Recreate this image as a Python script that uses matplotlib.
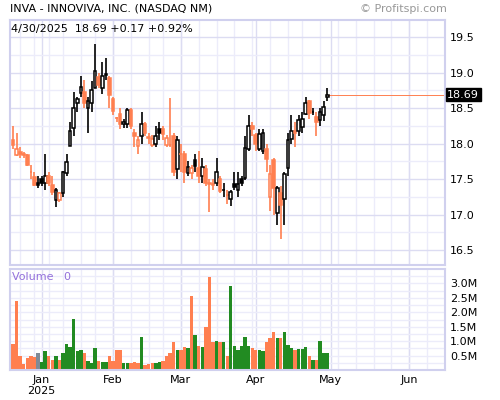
import matplotlib
matplotlib.use("Agg")
import matplotlib.pyplot as plt
import pandas as pd
import numpy as np

dates = ["2024-12-19","2024-12-20","2024-12-23","2024-12-24","2024-12-26","2024-12-27","2024-12-30","2024-12-31",
 "2025-01-02","2025-01-03","2025-01-06","2025-01-07","2025-01-08","2025-01-10","2025-01-13","2025-01-14","2025-01-15",
 "2025-01-16","2025-01-17","2025-01-21","2025-01-22","2025-01-23","2025-01-24","2025-01-27","2025-01-28","2025-01-29",
 "2025-01-30","2025-01-31",
 "2025-02-03","2025-02-04","2025-02-05","2025-02-06","2025-02-07","2025-02-10","2025-02-11","2025-02-12","2025-02-13",
 "2025-02-14","2025-02-18","2025-02-19","2025-02-20","2025-02-21","2025-02-24","2025-02-25","2025-02-26","2025-02-27","2025-02-28",
 "2025-03-03","2025-03-04","2025-03-05","2025-03-06","2025-03-07","2025-03-10","2025-03-11","2025-03-12","2025-03-13",
 "2025-03-14","2025-03-17","2025-03-18","2025-03-19","2025-03-20","2025-03-21","2025-03-24","2025-03-25","2025-03-26",
 "2025-03-27","2025-03-28","2025-03-31",
 "2025-04-01","2025-04-02","2025-04-03","2025-04-04","2025-04-07","2025-04-08","2025-04-09","2025-04-10","2025-04-11",
 "2025-04-14","2025-04-15","2025-04-16","2025-04-17","2025-04-21","2025-04-22","2025-04-23","2025-04-24","2025-04-25",
 "2025-04-28","2025-04-29","2025-04-30"]

opens = [18.05,17.84,17.88,17.86,17.84,17.60,17.53,17.45,
 17.50,17.45,17.55,17.42,17.20,17.20,17.30,17.58,17.96,18.22,18.57,18.71,18.72,18.50,18.57,18.78,18.94,18.78,18.98,18.92,
 18.63,18.36,18.42,18.27,18.27,18.47,18.15,17.97,18.10,18.28,18.08,17.98,18.00,18.20,18.20,17.98,17.98,18.10,17.64,
 17.85,17.85,17.58,17.58,17.77,17.66,17.55,17.64,17.44,17.43,17.44,17.50,17.34,17.27,17.22,17.43,17.34,17.50,17.51,17.92,18.25,
 18.12,17.92,17.90,17.92,17.25,17.77,17.02,17.30,17.22,17.65,18.06,18.18,18.18,18.23,18.42,18.60,18.45,18.37,18.33,18.40,18.65]
closes = [17.98,17.92,17.85,17.84,17.70,17.60,17.42,17.42,
 17.44,17.55,17.45,17.32,17.35,17.30,17.60,17.74,18.17,18.50,18.63,18.80,18.57,18.60,18.75,19.02,18.82,18.95,18.96,18.68,
 18.46,18.36,18.28,18.30,18.47,18.25,18.10,18.05,18.28,18.15,18.08,18.07,18.10,18.15,18.13,18.08,17.98,17.60,18.05,
 17.85,17.60,17.67,17.66,17.68,17.55,17.67,17.44,17.43,17.42,17.60,17.33,17.34,17.27,17.32,17.39,17.43,17.45,17.94,18.25,18.20,
 18.00,18.13,18.15,17.78,17.57,17.37,17.38,17.13,17.57,18.05,18.18,18.15,18.33,18.34,18.57,18.43,18.44,18.30,18.44,18.52,18.69]
highs = [18.25,18.15,17.95,17.88,17.86,17.70,17.60,17.55,
 17.55,17.85,17.60,17.55,17.38,17.32,17.62,17.85,18.30,18.72,18.65,18.95,18.90,18.65,18.88,19.40,19.00,19.15,19.20,18.95,
 18.65,18.38,18.50,18.35,18.50,18.50,18.20,18.10,18.45,18.30,18.15,18.12,18.25,18.30,18.25,18.12,18.64,18.15,18.10,
 18.00,17.90,17.75,17.70,17.85,17.90,17.80,17.70,17.50,17.50,17.80,17.55,17.45,17.35,17.35,17.60,17.60,17.55,18.10,18.40,18.30,
 18.15,18.20,18.20,18.00,17.70,17.80,17.40,17.40,17.60,18.15,18.40,18.30,18.40,18.45,18.65,18.62,18.50,18.45,18.50,18.60,18.78]
lows = [17.92,17.82,17.80,17.80,17.68,17.50,17.40,17.38,
 17.40,17.35,17.40,17.28,17.10,17.18,17.25,17.55,17.96,18.10,18.45,18.65,18.50,18.15,18.45,18.78,18.78,18.70,18.90,18.50,
 18.40,18.30,18.20,18.22,18.22,18.20,17.95,17.85,18.00,18.10,18.00,17.95,17.95,18.05,18.05,17.95,17.95,17.55,17.50,
 17.60,17.45,17.55,17.50,17.60,17.45,17.45,17.40,17.03,17.35,17.40,17.30,17.25,17.15,17.12,17.35,17.25,17.40,17.48,17.90,18.10,
 17.90,17.90,17.85,17.60,17.05,17.00,16.85,16.65,16.85,17.55,18.00,17.95,18.10,18.15,18.40,18.35,18.40,18.10,18.25,18.32,18.60]
volumes = [0.90,2.38,0.50,0.20,0.40,0.50,0.44,0.60,0.26,0.66,0.50,0.34,0.50,0.34,0.60,0.90,0.78,1.76,0.66,0.70,
 0.60,0.32,0.24,0.76,0.32,0.26,0.26,0.50,0.32,0.70,0.70,0.24,0.24,0.24,0.26,0.24,1.16,0.18,0.20,0.24,
 0.24,0.26,0.32,0.50,0.60,0.96,0.70,0.70,0.80,0.76,2.56,1.22,0.82,0.80,1.50,3.24,0.96,1.02,0.96,0.96,
 0.50,2.90,0.82,0.70,0.82,1.16,0.82,0.76,0.70,0.70,0.66,0.96,1.10,1.30,1.10,1.10,1.30,0.86,0.76,0.70,
 0.74,0.74,0.80,0.50,0.34,0.34,1.02,0.60,0.60]
price_ticks = [16.5, 17.0, 17.5, 18.0, 18.5, 19.0, 19.5]
vol_ticks = [0.5, 1.0, 1.5, 2.0, 2.5, 3.0]
month_ticks = ["2025-01-01","2025-02-01","2025-03-01","2025-04-01","2025-05-01","2025-06-01"]
month_labels = ["Jan\n2025","Feb","Mar","Apr","May","Jun"]

ORANGE = "#ff7f50"; GREEN = "#228b22"; GRAY = "#7f8a96"
GRIDMIN = "#ececfa"; GRIDMAJ = "#dcdcf2"; EDGE = "#d0d0ee"

# trading-day index axis (extended into the future for ticks)
past = pd.to_datetime(dates)
future = pd.bdate_range("2025-05-01", "2025-07-31")
alld = past.append(future)
x = np.arange(len(past))
o = np.array(opens); c = np.array(closes); h = np.array(highs); l = np.array(lows)
prev = np.r_[c[0] + 0.01, c[:-1]]

month_pos = [int(np.searchsorted(alld, pd.Timestamp(m))) for m in month_ticks]
week_pos = [i for i in range(1, len(alld)) if alld[i].weekday() < alld[i-1].weekday()]

fig = plt.figure(figsize=(5, 4), dpi=100)
ax = fig.add_axes([0.02, 0.3375, 0.87, 0.6125])
av = fig.add_axes([0.02, 0.075, 0.87, 0.2525])
xmin, xmax = -0.85, 121.0

for a in (ax, av):
    a.set_xlim(xmin, xmax)
    a.set_facecolor("white")
    for s in a.spines.values():
        s.set_color(EDGE); s.set_linewidth(1.5)
    for v in week_pos:
        a.axvline(v, color=GRIDMIN, lw=1, zorder=0)
    for v in month_pos:
        a.axvline(v, color=GRIDMAJ, lw=1, zorder=0)
    a.yaxis.tick_right()
    a.tick_params(axis="both", length=0, labelsize=8)

ax.set_ylim(16.29, 19.74)
for yv in np.arange(16.5, 19.76, 0.25):
    ax.axhline(yv, color=GRIDMAJ if abs(yv*2 - round(yv*2)) < 1e-6 else GRIDMIN, lw=1, zorder=0)
ax.set_yticks(price_ticks)
ax.set_yticklabels([f"{t:.1f}" for t in price_ticks])
ax.set_xticks([])

w = 0.75
for xi, oi, ci, hi, li, pi in zip(x, o, c, h, l, prev):
    col = ORANGE if ci < pi else "black"
    top, bot = max(oi, ci), min(oi, ci)
    ax.vlines(xi, top, hi, color=col, lw=1.2, zorder=2)
    ax.vlines(xi, li, bot, color=col, lw=1.2, zorder=2)
    hgt = max(top - bot, 0.006)
    fill = col if ci < oi else "white"
    ax.add_patch(plt.Rectangle((xi - w/2, bot), w, hgt, facecolor=fill, edgecolor=col, lw=1.1, zorder=3))

ax.hlines(c[-1], x[-1], xmax, color=ORANGE, lw=0.7, zorder=1)
ax.text(1.005, (c[-1] - 16.29) / (19.74 - 16.29), f"{c[-1]:.2f}", transform=ax.transAxes,
        fontsize=8, color="white", va="center", ha="left",
        bbox=dict(boxstyle="square,pad=0.15", fc="black", ec="black"))
chg = c[-1] - c[-2]
ax.text(0.003, 0.985, f"4/30/2025  {c[-1]:.2f} {chg:+.2f} {chg / c[-2] * 100:+.2f}%",
        transform=ax.transAxes, fontsize=8, va="top", ha="left")

vcol = [GREEN if ci > pi else (ORANGE if ci < pi else GRAY) for ci, pi in zip(c, prev)]
av.set_ylim(0, 3.5)
for yv in np.arange(0.25, 3.5, 0.25):
    av.axhline(yv, color=GRIDMIN, lw=1, zorder=0)
av.bar(x, volumes, width=0.95, color=vcol, zorder=2)
av.set_yticks(vol_ticks)
av.set_yticklabels([f"{t:.1f}M" for t in vol_ticks])
av.set_xticks(month_pos)
av.set_xticklabels(month_labels)
av.text(0.005, 0.97, "Volume   0", transform=av.transAxes, fontsize=8, color="#9370db", va="top")

fig.text(0.02, 0.978, "INVA - INNOVIVA, INC. (NASDAQ NM)", fontsize=8, va="center")
fig.text(0.72, 0.978, "© Profitspi.com", fontsize=8, va="center", color="#999999")
fig.savefig("out.png", dpi=100)
